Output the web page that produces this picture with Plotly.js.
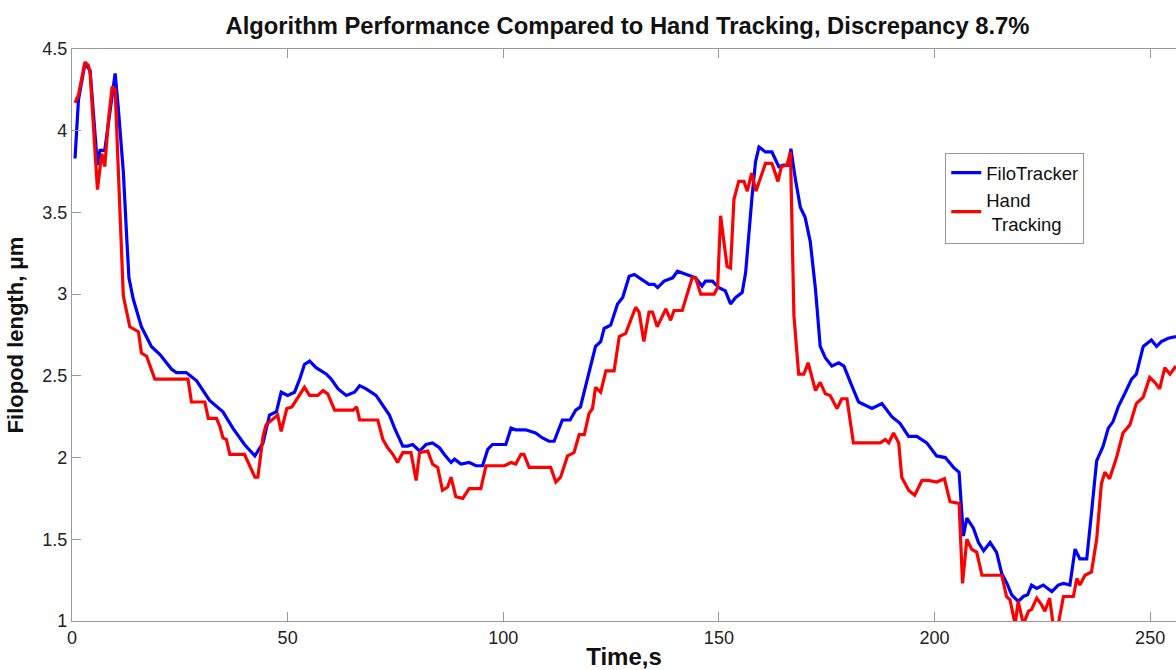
<!DOCTYPE html>
<html>
<head>
<meta charset="utf-8">
<script src="https://cdn.plot.ly/plotly-3.0.1.min.js"></script>
<style>html,body{margin:0;padding:0;background:#fff;}#chart{width:1176px;height:670px;}</style>
</head>
<body>
<div id="chart"></div>
<script>
// FiloTracker series (time s, length µm)
const blueT = [0.7,1.5,3.0,4.2,5.9,6.5,7.6,10.0,10.7,11.9,12.7,13.2,14.2,16.1,18.4,20.4,23.1,24.2,26.5,28.9,31.9,35.0,37.3,40.0,42.4,44.3,45.8,47.4,48.5,50.0,51.6,52.8,53.9,55.1,56.6,59.0,60.1,61.7,63.6,65.5,66.7,68.2,70.5,72.1,73.6,74.8,76.7,77.8,79.0,80.6,82.1,83.6,85.2,86.3,87.9,88.7,90.2,92.1,93.7,95.2,96.4,97.5,100.6,101.8,102.9,105.2,107.5,109.1,110.6,111.8,113.7,115.5,116.8,117.9,119.1,120.3,121.4,122.6,123.4,124.9,126.5,127.7,129.2,130.4,131.5,133.8,135.0,135.8,137.3,139.3,140.4,142.4,144.6,146.1,146.9,148.5,150.0,151.5,152.7,153.9,155.4,156.2,156.9,157.7,158.5,159.3,160.8,162.3,163.9,165.0,166.2,166.7,167.7,168.9,170.0,171.2,172.4,173.5,174.7,176.2,177.8,179.0,180.5,182.4,185.5,187.8,190.1,192.0,194.0,195.9,198.2,200.5,202.5,204.4,205.7,206.7,207.5,209.0,210.2,211.4,212.9,214.4,215.6,216.8,217.9,219.4,220.6,221.6,222.5,223.7,225.2,227.2,228.7,229.9,231.4,232.6,233.7,235.3,236.4,237.6,239.1,240.3,241.4,242.6,244.1,245.7,246.8,248.4,250.3,251.5,252.6,254.2,256.0];
const blueV = [3.83,4.19,4.41,4.37,3.79,3.88,3.88,4.35,4.15,3.75,3.34,3.10,2.97,2.80,2.68,2.63,2.54,2.52,2.52,2.47,2.35,2.28,2.18,2.08,2.01,2.09,2.26,2.28,2.40,2.38,2.40,2.48,2.57,2.59,2.55,2.51,2.48,2.42,2.38,2.40,2.44,2.42,2.38,2.32,2.26,2.18,2.07,2.07,2.08,2.04,2.08,2.09,2.06,2.02,1.97,1.99,1.96,1.97,1.95,1.95,2.05,2.08,2.08,2.18,2.17,2.17,2.15,2.12,2.10,2.10,2.23,2.23,2.29,2.31,2.44,2.55,2.68,2.71,2.79,2.81,2.94,2.98,3.11,3.12,3.10,3.06,3.06,3.04,3.08,3.10,3.14,3.12,3.10,3.05,3.08,3.08,3.04,3.02,2.94,2.98,3.01,3.13,3.36,3.60,3.81,3.90,3.87,3.87,3.78,3.79,3.79,3.89,3.71,3.53,3.47,3.32,3.03,2.68,2.61,2.56,2.58,2.56,2.46,2.34,2.30,2.33,2.25,2.21,2.13,2.13,2.09,2.01,2.00,1.94,1.91,1.52,1.63,1.57,1.48,1.43,1.48,1.42,1.29,1.23,1.16,1.12,1.15,1.16,1.22,1.20,1.22,1.18,1.22,1.23,1.22,1.44,1.38,1.38,1.66,1.98,2.07,2.18,2.22,2.31,2.39,2.48,2.51,2.68,2.72,2.68,2.71,2.73,2.74];

// Hand Tracking series
const redT = [0.7,1.5,3.0,3.8,4.2,5.9,6.9,7.6,8.4,9.3,10.0,10.3,11.1,11.9,13.4,15.4,16.1,17.3,19.2,26.9,27.7,30.8,31.6,33.5,34.3,35.0,35.8,36.6,40.0,42.4,43.1,44.3,45.0,47.7,48.5,49.8,51.0,52.4,53.9,55.1,57.0,58.2,59.3,60.9,65.2,66.0,66.7,70.9,72.1,73.2,74.4,75.5,76.7,78.6,79.8,80.6,82.5,83.6,84.8,85.9,87.1,87.9,89.0,90.6,92.1,94.8,96.0,100.3,101.8,102.9,104.1,104.8,106.0,111.0,112.2,113.3,114.9,116.4,117.6,118.8,119.9,120.7,121.4,122.6,123.8,125.7,126.9,128.4,130.7,131.5,132.6,133.8,134.6,135.7,137.7,138.8,139.6,141.5,143.8,144.6,145.8,148.9,149.7,150.4,151.9,152.7,153.5,154.6,155.8,156.6,157.6,158.6,159.6,160.8,162.3,163.7,164.5,165.8,166.6,167.4,168.5,169.7,170.7,172.4,173.5,174.7,175.8,177.4,178.5,179.7,181.2,187.4,188.6,189.4,190.5,191.7,192.4,194.0,195.4,197.1,198.6,200.5,202.3,203.6,205.7,206.5,207.5,208.6,209.8,211.0,215.6,216.7,217.5,218.7,219.4,220.6,221.8,222.5,223.7,224.8,225.6,226.7,227.5,228.7,229.9,232.2,233.0,233.7,234.9,236.4,237.6,238.7,239.5,240.6,242.2,243.7,245.3,246.8,248.4,249.9,251.1,252.2,253.4,254.6,256.0];
const redV = [4.17,4.22,4.42,4.40,4.35,3.64,3.86,3.78,4.05,4.27,4.25,4.05,3.54,2.99,2.80,2.77,2.64,2.62,2.48,2.48,2.34,2.34,2.24,2.24,2.19,2.12,2.11,2.02,2.02,1.88,1.88,2.13,2.20,2.26,2.16,2.30,2.31,2.37,2.43,2.38,2.38,2.41,2.39,2.29,2.29,2.31,2.23,2.23,2.11,2.06,2.02,1.97,2.03,2.03,1.86,2.03,2.04,1.96,1.94,1.80,1.82,1.88,1.76,1.75,1.81,1.81,1.95,1.95,1.97,1.96,2.02,2.02,1.94,1.94,1.85,1.88,2.01,2.03,2.14,2.14,2.27,2.30,2.43,2.40,2.53,2.53,2.74,2.76,2.92,2.89,2.71,2.89,2.89,2.80,2.91,2.84,2.90,2.90,3.10,3.10,3.00,3.00,3.04,3.48,3.17,3.16,3.58,3.69,3.69,3.63,3.74,3.63,3.71,3.80,3.80,3.69,3.78,3.79,3.87,2.87,2.51,2.51,2.58,2.41,2.46,2.39,2.38,2.30,2.36,2.36,2.09,2.09,2.11,2.09,2.15,2.09,1.88,1.80,1.77,1.86,1.86,1.85,1.87,1.73,1.72,1.23,1.50,1.44,1.42,1.28,1.28,1.15,1.13,0.98,1.12,0.98,1.06,1.07,1.14,1.10,1.06,1.14,0.98,0.98,1.15,1.15,1.26,1.22,1.28,1.30,1.50,1.84,1.91,1.87,2.00,2.15,2.20,2.33,2.37,2.49,2.46,2.42,2.55,2.51,2.56];

const yTickVals = [1,1.5,2,2.5,3,3.5,4,4.5];
const yTickText = ["1","1.5","2","2.5","3","3.5","4","4.5"];
const xTickVals = [0,50,100,150,200,250];
const xTickText = ["0","50","100","150","200","250"];

const traces = [
  {x: blueT, y: blueV, type: 'scatter', mode: 'lines', name: 'FiloTracker',
   line: {color: '#0000ff', width: 3.2}},
  {x: redT, y: redV, type: 'scatter', mode: 'lines', name: 'Hand<br>\u00a0Tracking',
   line: {color: '#ff0000', width: 3.2}}
];

const axisCommon = {
  showgrid: false, zeroline: false, showline: true, linecolor: '#9a9a9a', linewidth: 1.2,
  ticks: 'inside', ticklen: 9, tickcolor: '#9a9a9a', tickwidth: 1,
  tickfont: {family: 'Arial, Liberation Sans, sans-serif', size: 18, color: '#222'},
  tickmode: 'array'
};

const layout = {
  width: 1176, height: 670,
  margin: {l: 72, r: 0, t: 49, b: 49, pad: 0},
  paper_bgcolor: '#fff', plot_bgcolor: '#fff',
  font: {family: 'Arial, Liberation Sans, sans-serif', color: '#111'},
  title: {text: '<b>Algorithm Performance Compared to Hand Tracking, Discrepancy 8.7%</b>',
          font: {size: 23.8, color: '#111'}, x: 0.5336, xanchor: 'center', y: 0.962, yanchor: 'middle'},
  xaxis: Object.assign({}, axisCommon, {
    range: [0, 256], tickvals: xTickVals, ticktext: xTickText, mirror: 'ticks',
    title: {text: '<b>Time,s</b>', font: {size: 24, color: '#111'}, standoff: 2}
  }),
  yaxis: Object.assign({}, axisCommon, {
    range: [1, 4.5], tickvals: yTickVals, ticktext: yTickText, mirror: false,
    title: {text: '<b>Filopod length, μm</b>', font: {size: 22, color: '#111'}, standoff: 12}
  }),
  showlegend: true,
  legend: {x: 0.791, y: 0.818, xanchor: 'left', yanchor: 'top',
           bgcolor: '#fff', bordercolor: '#999', borderwidth: 1,
           font: {family: 'Arial, Liberation Sans, sans-serif', size: 18.5, color: '#111'},
           tracegroupgap: 0, itemwidth: 30}
};

Plotly.newPlot('chart', traces, layout, {displayModeBar: false, staticPlot: true});
</script>
</body>
</html>
